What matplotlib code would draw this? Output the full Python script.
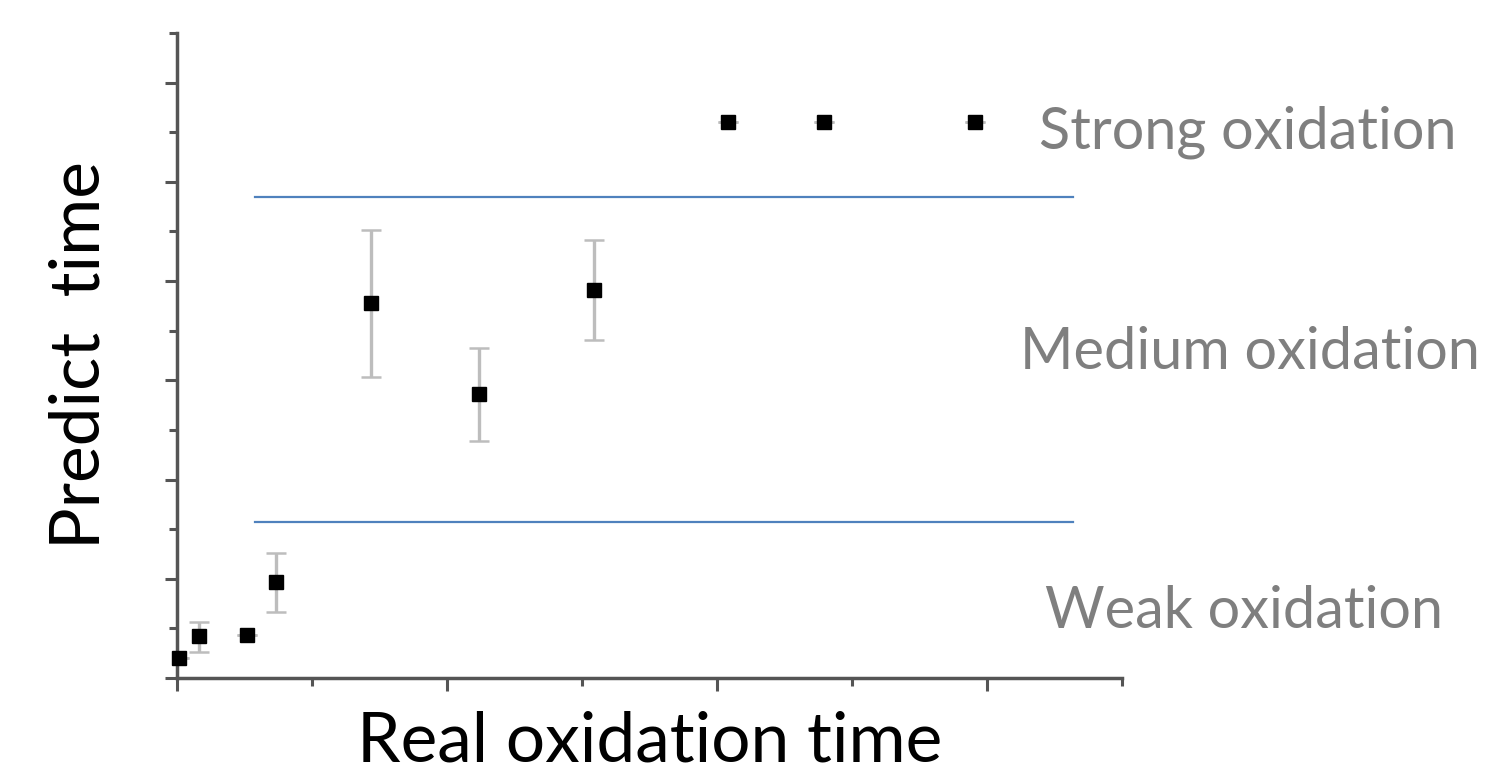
import matplotlib
matplotlib.use("Agg")
import matplotlib.pyplot as plt
from matplotlib.ticker import MultipleLocator, NullFormatter

# Data
real_time = [0.015, 0.16, 0.52, 0.73, 1.44, 2.24, 3.09, 4.08, 4.79, 5.91]
predict_time = [0.20, 0.42, 0.43, 0.97, 3.78, 2.86, 3.91, 5.60, 5.60, 5.60]
err_low = [0.0, 0.16, 0.0, 0.30, 0.745, 0.47, 0.50, 0.0, 0.0, 0.0]
err_high = [0.0, 0.14, 0.0, 0.29, 0.735, 0.47, 0.50, 0.0, 0.0, 0.0]

boundary_levels = [4.85, 1.57]
boundary_x = [0.58, 6.64]

zone_labels = ["Strong oxidation", "Medium oxidation", "Weak oxidation"]
zone_label_y = [5.50, 3.28, 0.67]
zone_label_x = [7.93, 7.95, 7.9]

plt.rcParams['font.family'] = ['Lato', 'DejaVu Sans']

fig = plt.figure(figsize=(14.88, 7.74), dpi=100)
ax = fig.add_axes([177/1488, 1-678/774, (1122-177)/1488, (678-33)/774])

ax.errorbar(real_time, predict_time, yerr=[err_low, err_high], fmt='none',
            ecolor='#bdbdbd', elinewidth=2.4, capsize=7, capthick=1.8, zorder=2)
ax.plot(real_time, predict_time, 's', color='black', markersize=10, zorder=3, clip_on=False)

for lvl in boundary_levels:
    ax.plot(boundary_x, [lvl, lvl], color='#4f81bd', linewidth=1.6, zorder=1)

for lab, lx, ly in zip(zone_labels, zone_label_x, zone_label_y):
    ax.text(lx, ly, lab, color='#7f7f7f', fontsize=41.5, ha='center', va='center', clip_on=False)

ax.set_xlim(0, 7)
ax.set_ylim(0, 6.5)
ax.xaxis.set_major_locator(MultipleLocator(2))
ax.xaxis.set_minor_locator(MultipleLocator(1))
ax.yaxis.set_major_locator(MultipleLocator(1))
ax.yaxis.set_minor_locator(MultipleLocator(0.5))
ax.xaxis.set_major_formatter(NullFormatter())
ax.yaxis.set_major_formatter(NullFormatter())

for s in ['top', 'right']:
    ax.spines[s].set_visible(False)
for s in ['left', 'bottom']:
    ax.spines[s].set_color('#555555')
    ax.spines[s].set_linewidth(2.5)

ax.tick_params(axis='both', which='major', length=9, width=2.2, color='#555555', direction='out')
ax.tick_params(axis='both', which='minor', length=6, width=2.2, color='#555555', direction='out')

ax.set_xlabel("Real oxidation time", fontsize=50, color='black', labelpad=11)
ax.set_ylabel("Predict  time", fontsize=50, color='black', labelpad=35)

fig.savefig("out.png", dpi=100)
